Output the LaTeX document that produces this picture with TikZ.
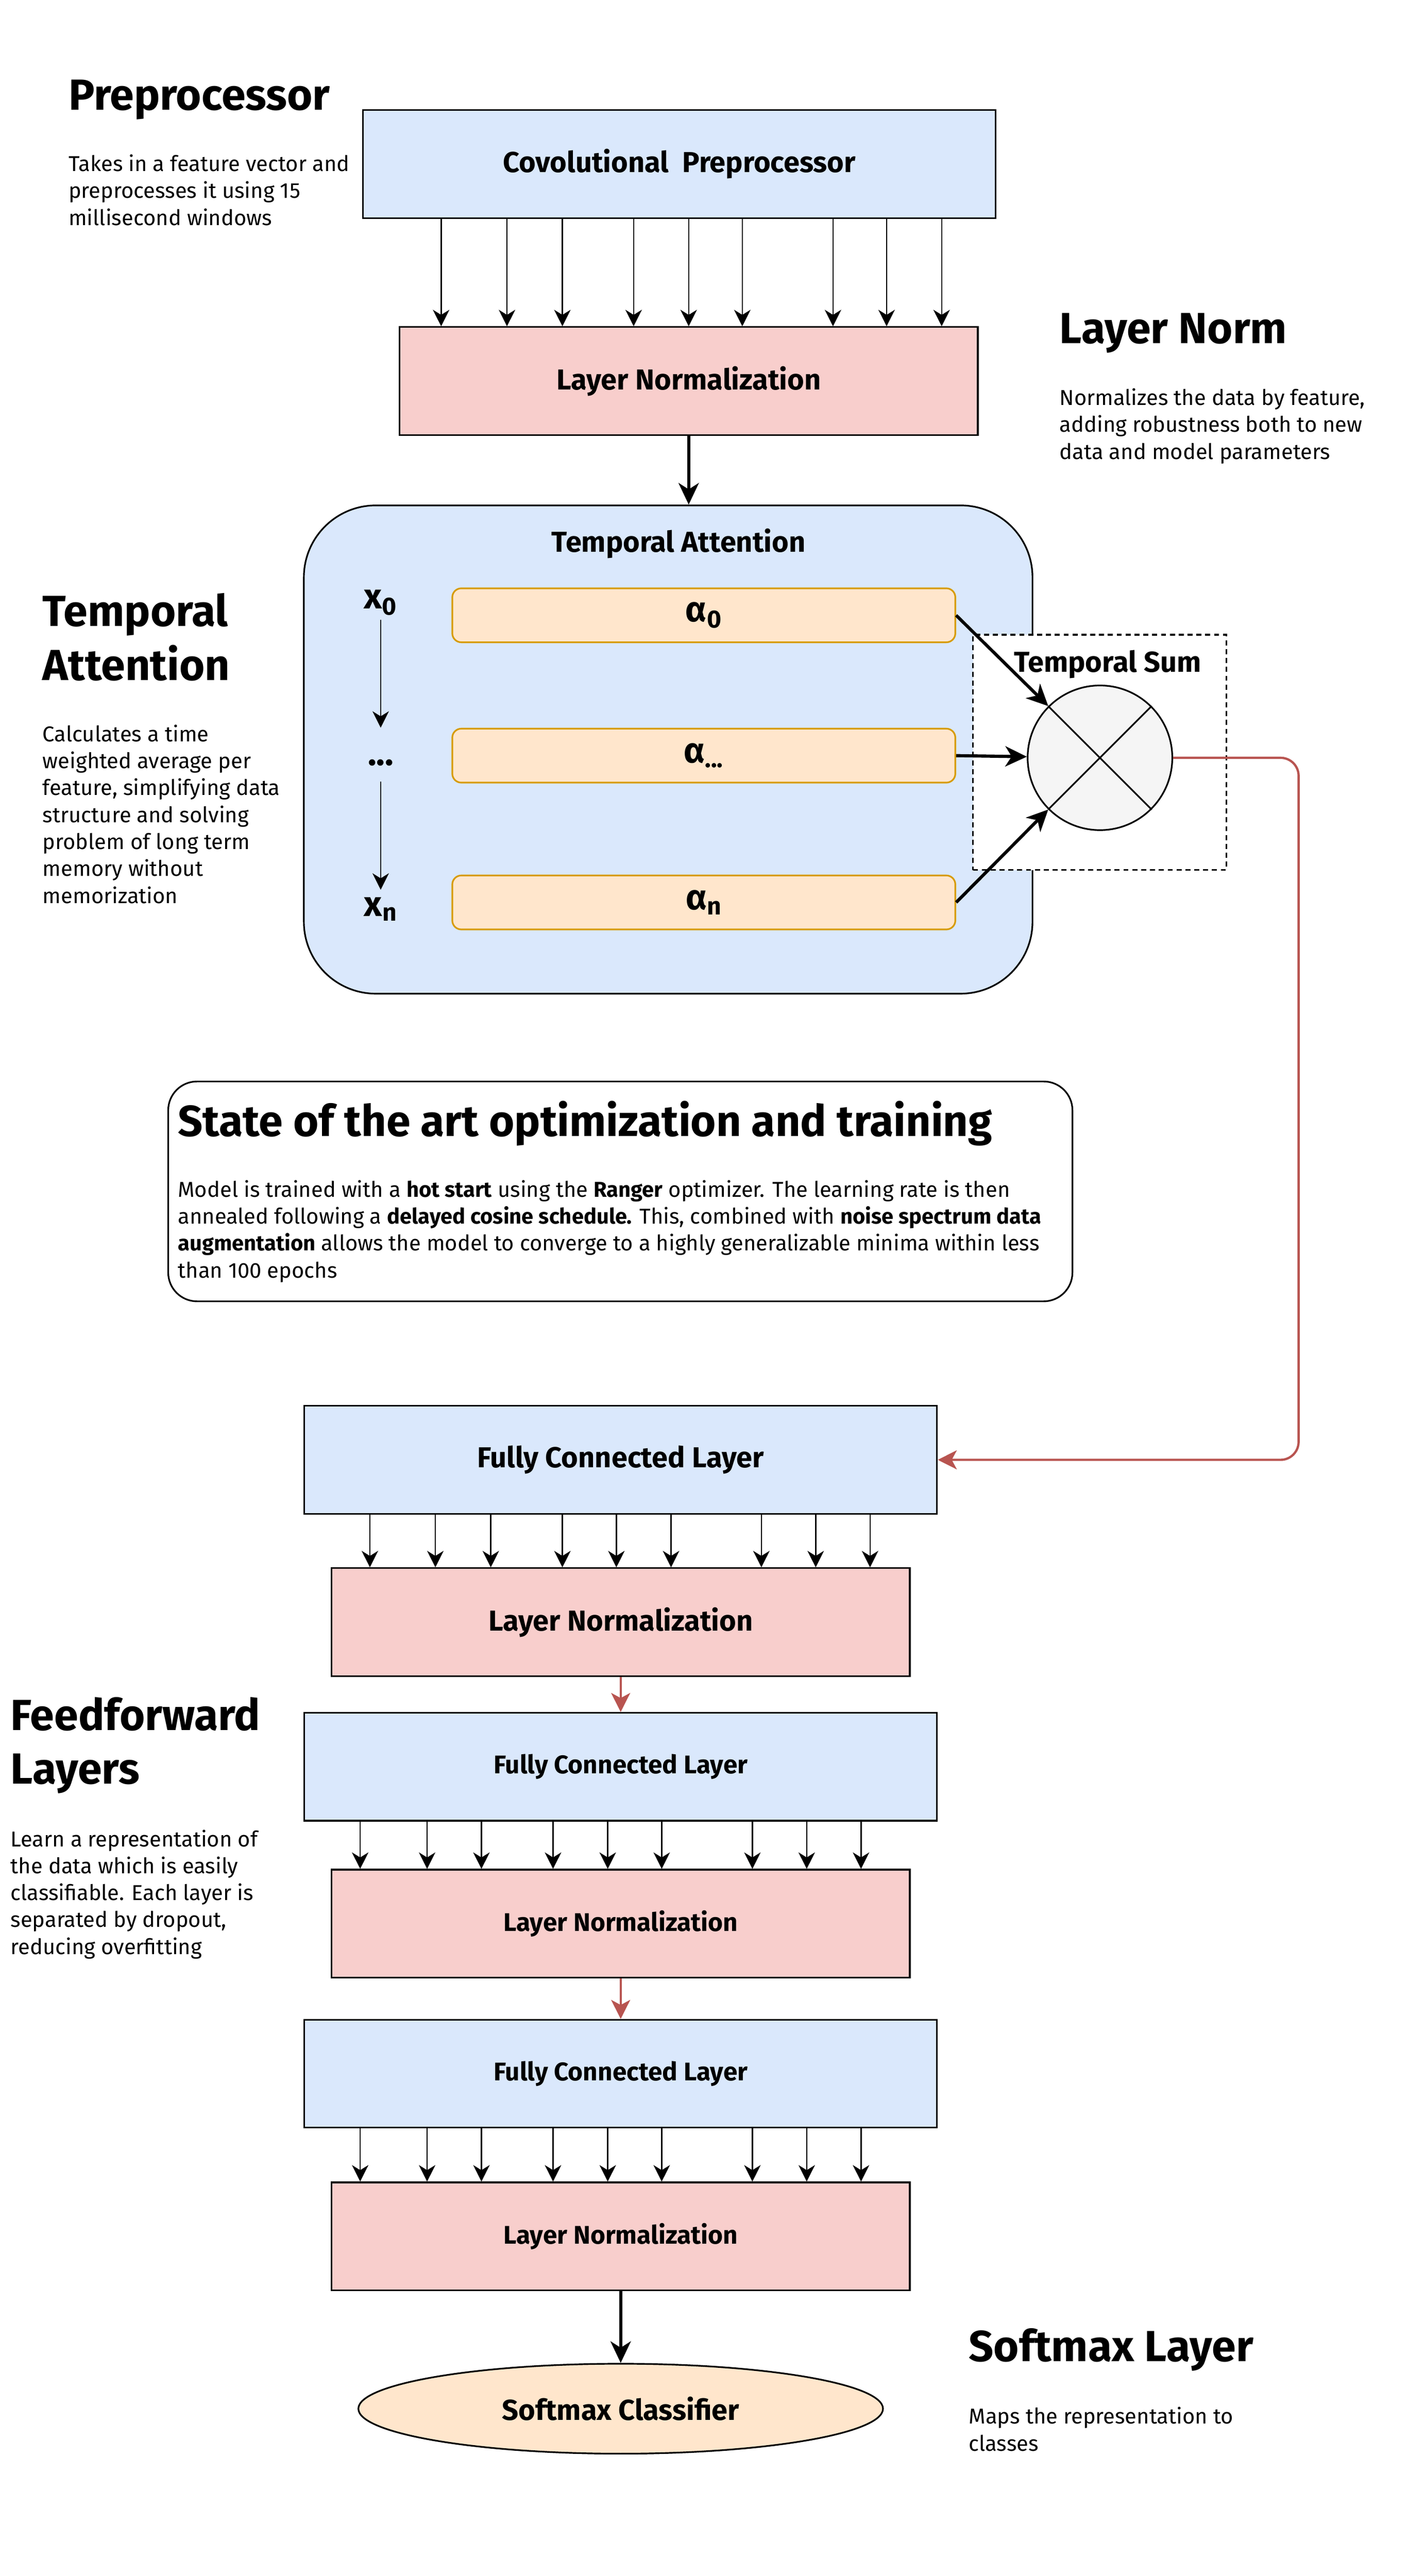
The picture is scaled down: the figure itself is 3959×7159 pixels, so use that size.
\documentclass[tikz,border=0pt]{standalone}
\usepackage{fontspec}
\setmainfont{Fira Sans}
\usepackage{tikz}
\usetikzlibrary{arrows.meta,shapes.geometric}

\definecolor{blueFill}{HTML}{DAE8FC}
\definecolor{redFill}{HTML}{F8CECC}
\definecolor{orangeFill}{HTML}{FFE6CC}
\definecolor{orangeLine}{HTML}{D79B00}
\definecolor{greyFill}{HTML}{F5F5F5}
\definecolor{redLine}{HTML}{B85450}

\begin{document}
\begin{tikzpicture}[x=0.1mm,y=-0.1mm]

\newcommand{\hfont}{\fontsize{34.4}{42.7}\selectfont\bfseries}
\newcommand{\tfont}{\fontsize{17}{21.3}\selectfont}
\newcommand{\lfont}{\fontsize{22.8}{27}\selectfont\bfseries}
\newcommand{\sfont}{\fontsize{20.2}{24}\selectfont\bfseries}
\newcommand{\gfont}{\fontsize{28}{34}\selectfont\bfseries}

\tikzstyle{layerbox}=[draw, line width=1.3pt, inner sep=0pt, minimum height=3cm]
\tikzstyle{fcbox}=[layerbox, fill=blueFill, minimum width=17.58cm]
\tikzstyle{normbox}=[layerbox, fill=redFill, minimum width=16.07cm]
\tikzstyle{weightbox}=[draw=orangeLine, fill=orangeFill, line width=1.3pt,
  rounded corners=0.25cm, minimum width=13.98cm, minimum height=1.5cm, font=\gfont]
\tikzstyle{heading}=[anchor=base west, inner sep=0pt, align=left, font=\hfont]
\tikzstyle{blurb}=[anchor=base west, inner sep=0pt, align=left, font=\tfont]
\tikzstyle{smallarrow}=[line width=1pt, -{Stealth[length=13pt,width=13pt,inset=4pt]}]
\tikzstyle{bigarrow}=[line width=2.5pt, -{Stealth[length=17pt,width=16pt,inset=5pt]}]
\tikzstyle{redarrow}=[line width=1.8pt, redLine, -{Stealth[length=15pt,width=15pt,inset=4pt]}]

\useasboundingbox (0,0) rectangle (3959,7159);

% preprocessor and first norm
\node[fcbox, font=\lfont] (pre) at (1888,456) {Covolutional\ \ Preprocessor};
\node[normbox, font=\lfont] (ln1) at (1914,1059) {Layer Normalization};
\foreach \x in {1226,1409,1563,1761,1914,2063,2315,2464,2617}
  \draw[smallarrow] (pre.south -| \x,0) -- (ln1.north -| \x,0);

% temporal attention
\node[draw, line width=1.3pt, fill=blueFill, rounded corners=2cm,
  minimum width=20.25cm, minimum height=13.57cm] (ta) at (1857,2083) {};
\node[font=\lfont] (tatitle) at (1886,1510) {Temporal Attention};
\draw[bigarrow] (ln1.south) -- (ln1.south |- ta.north);

\node[weightbox] (a0) at (1956,1710) {α\textsubscript{0}};
\node[weightbox] (am) at (1956,2100) {α\textsubscript{...}};
\node[weightbox] (an) at (1956,2508) {α\textsubscript{n}};

\node[font=\gfont, inner sep=0pt] (x0) at (1058,1675) {x\textsubscript{0}};
\node[font=\gfont, inner sep=0pt] (dots) at (1058,2120) {...};
\node[font=\gfont, inner sep=0pt] (xn) at (1058,2527) {x\textsubscript{n}};
\draw[smallarrow, shorten <=0.11cm, shorten >=0.88cm] (x0) -- (dots);
\draw[smallarrow, shorten <=0.43cm, shorten >=0.21cm] (dots) -- (xn);

% temporal sum
\node[draw, dashed, dash pattern=on 4pt off 3pt, line width=1.3pt, fill=white,
  minimum width=7.04cm, minimum height=6.54cm] (sumbox) at (3056,2091) {};
\node[font=\lfont] (sumtitle) at (3078,1846) {Temporal Sum};
\node[circle, draw, fill=greyFill, line width=1.3pt, inner sep=0pt,
  minimum size=4.02cm] (sum) at (3057,2106) {};
\draw[line width=1.3pt] (sum.north west) -- (sum.south east)
  (sum.north east) -- (sum.south west);
\draw[bigarrow] (a0.east) -- (sum.north west);
\draw[bigarrow] (am.east) -- (sum);
\draw[bigarrow] (an.east) -- (sum.south west);

% training note
\node[draw, line width=1.3pt, rounded corners=0.8cm,
  minimum width=25.13cm, minimum height=6.11cm] (state) at (1724,3311) {};
\node[heading] (statetitle) at (494,3158) {State of the art optimization and training};
\node[blurb] (statetext) at (494,3551) {Model is trained with a \textbf{hot start} using the \textbf{Ranger} optimizer. The learning rate is then\\
annealed following a \textbf{delayed cosine schedule.} This, combined with \textbf{noise spectrum data}\\
\textbf{augmentation} allows the model to converge to a highly generalizable minima within less\\
than 100 epochs};

% feedforward stack
\node[fcbox, font=\lfont] (fc1) at (1725,4057) {Fully Connected Layer};
\node[normbox, font=\lfont] (ln2) at (1725,4508) {Layer Normalization};
\node[fcbox, font=\sfont] (fc2) at (1725,4910) {Fully Connected Layer};
\node[normbox, font=\sfont] (ln3) at (1725,5346) {Layer Normalization};
\node[fcbox, font=\sfont] (fc3) at (1725,5763) {Fully Connected Layer};
\node[normbox, font=\sfont] (ln4) at (1725,6215) {Layer Normalization};
\node[ellipse, draw, fill=orangeFill, line width=1.3pt, inner sep=0pt,
  minimum width=14.58cm, minimum height=2.5cm, font=\lfont] (soft) at (1725,6694) {Softmax Classifier};

\coordinate (turn) at (3609,0);
\draw[redarrow, rounded corners=0.5cm] (sum.east) -| (turn |- fc1.east) -- (fc1.east);

\foreach \x in {1028,1210,1364,1563,1713,1865,2116,2267,2418}
  \draw[smallarrow] (fc1.south -| \x,0) -- (ln2.north -| \x,0);
\foreach \x in {1001,1187,1338,1537,1689,1839,2091,2242,2393}{
  \draw[smallarrow] (fc2.south -| \x,0) -- (ln3.north -| \x,0);
  \draw[smallarrow] (fc3.south -| \x,0) -- (ln4.north -| \x,0);
}
\draw[redarrow] (ln2) -- (fc2);
\draw[redarrow] (ln3) -- (fc3);
\draw[bigarrow] (ln4) -- (soft);

% side notes
\node[heading] (preh) at (190,305) {Preprocessor};
\node[blurb] (pret) at (190,626) {Takes in a feature vector and\\preprocesses it using 15\\millisecond windows};
\node[heading] (lnh) at (2944,955) {Layer Norm};
\node[blurb] (lnt) at (2944,1276) {Normalizes the data by feature,\\adding robustness both to new\\data and model parameters};
\node[heading] (tah) at (118,1891) {Temporal\\Attention};
\node[blurb] (tat) at (118,2510) {Calculates a time\\weighted average per\\feature, simplifying data\\structure and solving\\problem of long term\\memory without\\memorization};
\node[heading] (ffh) at (29,4958) {Feedforward\\Layers};
\node[blurb] (fft) at (29,5431) {Learn a representation of\\the data which is easily\\classifiable. Each layer is\\separated by dropout,\\reducing overfitting};
\node[heading] (smh) at (2692,6563) {Softmax Layer};
\node[blurb] (smt) at (2692,6811) {Maps the representation to\\classes};

\end{tikzpicture}
\end{document}
